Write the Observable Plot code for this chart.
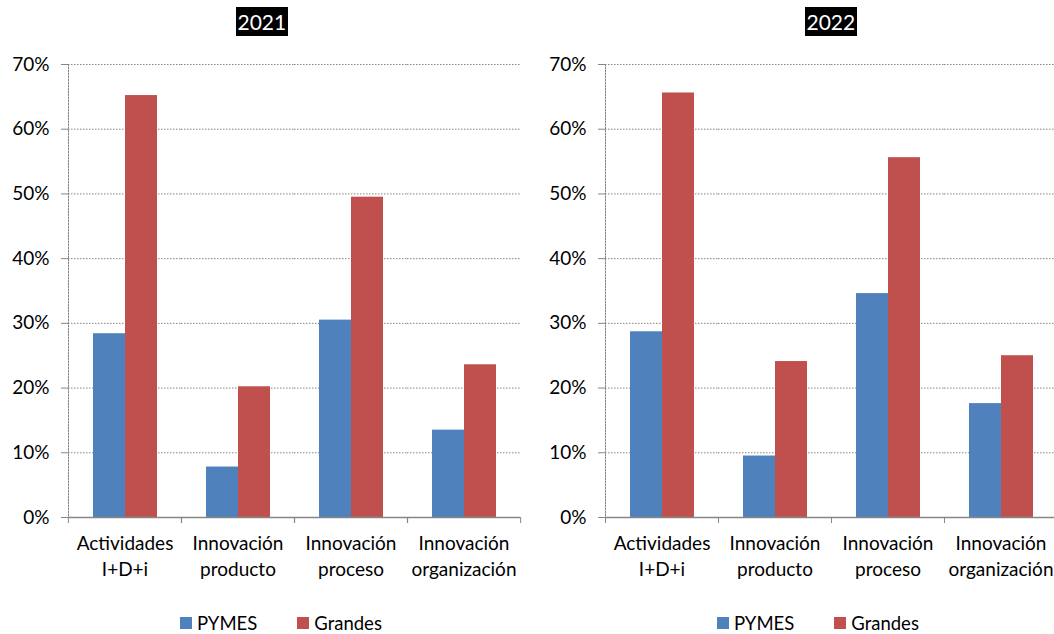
<!DOCTYPE html>
<html>
<head>
<meta charset="utf-8">
<script src="https://cdn.jsdelivr.net/npm/d3@7"></script>
<script src="https://cdn.jsdelivr.net/npm/@observablehq/plot@0.6"></script>
<style>
  html, body { margin: 0; padding: 0; background: #fff; }
  body { width: 1054px; height: 634px; overflow: hidden; position: relative; font-family: Lato, "Open Sans", sans-serif; color: #000; }
  .panel { position: absolute; top: 50px; width: 540px; height: 540px; }
  .panel svg { max-width: none !important; }
  .title { position: absolute; top: 7px; height: 29px; line-height: 29px; background: #000; color: #fff; font-size: 21px; padding: 0 2px; }
  .legend { position: absolute; top: 612px; display: flex; align-items: center; font-size: 18.5px; white-space: nowrap; }
  .legend .item { display: flex; align-items: center; margin-right: 40px; }
  .legend .sw { width: 12px; height: 12px; margin-right: 5px; }
</style>
</head>
<body>
<script>
const categories = ["Actividades\nI+D+i", "Innovación\nproducto", "Innovación\nproceso", "Innovación\norganización"];
const series = ["PYMES", "Grandes"];
const colors = ["#4F81BD", "#C0504D"];
const pymes2021 = [28.4, 7.8, 30.5, 13.5];
const grandes2021 = [65.2, 20.2, 49.5, 23.6];
const pymes2022 = [28.7, 9.5, 34.6, 17.6];
const grandes2022 = [65.6, 24.1, 55.6, 25.0];
const yTicks = [0, 10, 20, 30, 40, 50, 60, 70];
const years = ["2021", "2022"];

function rows(p, g) {
  const out = [];
  categories.forEach((c, i) => {
    out.push({cat: c, series: series[0], value: p[i]});
    out.push({cat: c, series: series[1], value: g[i]});
  });
  return out;
}

function panel(data, marginLeft, marginRight) {
  const half = (540 - marginLeft - marginRight) / categories.length / 2;
  return Plot.plot({
    width: 540,
    height: 540,
    marginTop: 14,
    marginBottom: 73,
    marginLeft,
    marginRight,
    style: {fontFamily: "Lato, 'Open Sans', sans-serif", fontSize: "19px", color: "#000", background: "transparent", maxWidth: "none"},
    fx: {domain: categories, padding: 0, label: null},
    x: {domain: series, paddingInner: 0, paddingOuter: 0.74, axis: null},
    y: {domain: [0, 70], axis: null, label: null},
    color: {domain: series, range: colors},
    marks: [
      Plot.gridY(yTicks, {stroke: "#868686", strokeOpacity: 1, strokeDasharray: "1.5,1.5"}),
      Plot.frame({anchor: "left", facet: "super", stroke: "#868686", strokeDasharray: "1.5,1.5"}),
      Plot.axisY(yTicks, {tickSize: 7, tickPadding: 12, tickFormat: d => d + "%", stroke: "#868686", fill: "#000", fontSize: 19, label: null}),
      Plot.barY(data, {fx: "cat", x: "series", y: "value", fill: "series"}),
      Plot.ruleY([0], {stroke: "#868686", strokeWidth: 1.5}),
      Plot.axisFx({anchor: "bottom", tickSize: 0, tickPadding: 14, lineHeight: 1.38, fontSize: 19, fill: "#000", label: null}),
      Plot.axisFx({anchor: "bottom", tickSize: 6, tickFormat: () => "", dx: -half, stroke: "#868686", label: null}),
      Plot.axisFx({anchor: "bottom", tickSize: 6, tickFormat: () => "", dx: half, stroke: "#868686", label: null})
    ]
  });
}

const configs = [
  {left: 0, ml: 67, mr: 20, p: pymes2021, g: grandes2021, titleCenter: 262, legendLeft: 180},
  {left: 540, ml: 65, mr: 23, p: pymes2022, g: grandes2022, titleCenter: 831, legendLeft: 717}
];

configs.forEach((c, k) => {
  const wrap = document.createElement("div");
  wrap.className = "panel";
  wrap.style.left = c.left + "px";
  const chart = panel(rows(c.p, c.g), c.ml, c.mr);
  wrap.appendChild(chart);
  document.body.appendChild(wrap);

  const t = document.createElement("div");
  t.className = "title";
  t.textContent = years[k];
  document.body.appendChild(t);
  t.style.left = (c.titleCenter - t.offsetWidth / 2) + "px";

  const lg = document.createElement("div");
  lg.className = "legend";
  lg.style.left = c.legendLeft + "px";
  const cs = chart.scale("color");
  cs.domain.forEach((s, i) => {
    const it = document.createElement("div");
    it.className = "item";
    const sw = document.createElement("div");
    sw.className = "sw";
    sw.style.background = cs.range[i];
    const tx = document.createElement("span");
    tx.textContent = s;
    it.appendChild(sw); it.appendChild(tx);
    lg.appendChild(it);
  });
  document.body.appendChild(lg);
});
</script>
</body>
</html>
